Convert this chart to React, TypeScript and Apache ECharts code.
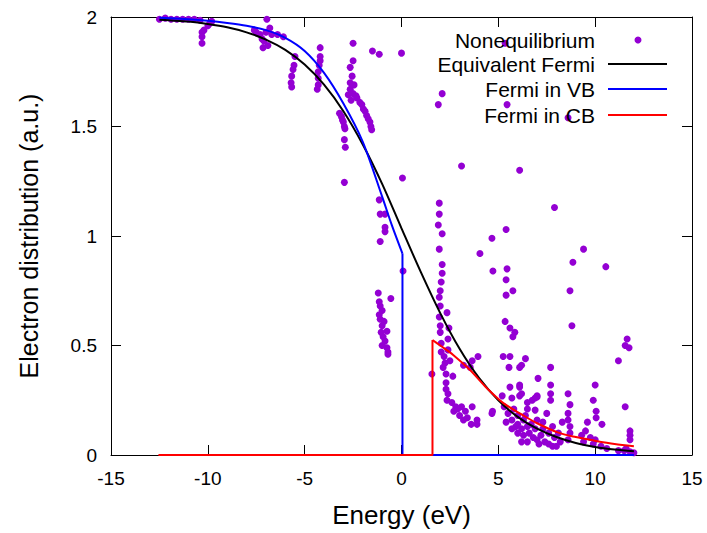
import React, { useEffect, useRef } from "react";
import * as echarts from "echarts";

const xTickValues = [-15, -10, -5, 0, 5, 10, 15];
const yTickValues = [0, 0.5, 1, 1.5, 2];

// Nonequilibrium distribution points [energy, value]
const noneqPoints: number[][] = [
  [-12.5, 1.99], [-12.2, 1.995], [-11.9, 1.99], [-11.6, 1.99], [-11.3, 1.99], [-11.0, 1.99], [-10.7, 1.99], [-10.4, 1.985],
  [-9.9, 1.97], [-10.0, 1.96], [-10.2, 1.94], [-10.3, 1.93], [-10.3, 1.91], [-10.3, 1.88], [-9.8, 1.98],
  [-6.95, 1.99], [-7.5, 1.93], [-7.3, 1.92], [-7.0, 1.93], [-6.7, 1.92], [-6.4, 1.92], [-6.1, 1.91], [-7.2, 1.90],
  [-7.1, 1.89], [-6.9, 1.87], [-7.15, 1.86], [-7.6, 1.94], [-6.8, 1.95],
  [-5.5, 1.82], [-5.55, 1.78], [-5.6, 1.76], [-5.67, 1.73], [-5.7, 1.70], [-5.67, 1.68],
  [-4.2, 1.86], [-4.2, 1.82], [-4.2, 1.80], [-4.25, 1.78], [-4.3, 1.75], [-4.3, 1.72], [-4.3, 1.69], [-4.35, 1.67],
  [-2.5, 1.88], [-1.5, 1.845], [-1.15, 1.83], [0.0, 1.835], [-2.5, 1.80], [-2.65, 1.77], [-2.55, 1.73], [-2.65, 1.70],
  [-2.45, 1.69], [-2.65, 1.67], [-2.75, 1.645], [-2.5, 1.65], [-2.35, 1.64], [-2.6, 1.62], [-2.3, 1.63],
  [-2.15, 1.61], [-2.05, 1.60], [-1.97, 1.58], [-1.88, 1.57], [-1.8, 1.55], [-1.72, 1.535], [-1.63, 1.52], [-1.58, 1.50], [-1.54, 1.485],
  [-3.2, 1.56], [-3.1, 1.545], [-3.05, 1.53], [-3.0, 1.52], [-2.95, 1.50], [-2.92, 1.49], [-2.95, 1.44], [-2.9, 1.405],
  [-2.95, 1.245], [0.05, 1.265],
  [-1.15, 1.165], [-1.1, 1.10], [-0.85, 1.10], [-0.85, 1.04], [-0.85, 1.02], [-1.1, 0.975],
  [0.08, 0.84],
  [-1.2, 0.74], [-0.55, 0.715], [-1.15, 0.70], [-1.1, 0.68], [-1.0, 0.66], [-1.15, 0.64], [-1.1, 0.62], [-0.9, 0.61],
  [-1.0, 0.59], [-0.75, 0.565], [-1.05, 0.56], [-0.95, 0.54], [-0.85, 0.52], [-1.0, 0.50], [-0.75, 0.49], [-0.7, 0.47], [-0.7, 0.46],
  [5.35, 1.88], [2.1, 1.65], [1.9, 1.60], [5.45, 1.60], [8.6, 1.54], [3.1, 1.32], [6.1, 1.30],
  [1.95, 1.15], [1.95, 1.10], [1.9, 1.05], [2.1, 1.01], [7.9, 1.13], [5.4, 1.03], [4.67, 0.99], [1.95, 0.94], [9.4, 0.94],
  [4.05, 0.92], [4.72, 0.84], [5.45, 0.85], [5.4, 0.80], [5.75, 0.75], [5.4, 0.73], [5.35, 0.61], [5.6, 0.58], [5.85, 0.56],
  [5.75, 0.54], [5.25, 0.45], [5.6, 0.45], [5.55, 0.40], [6.1, 0.40], [6.4, 0.44], [6.2, 0.41], [5.6, 0.31], [6.1, 0.31],
  [6.1, 0.27], [5.7, 0.26], [5.7, 0.12], [6.0, 0.14],
  [2.1, 0.87], [2.1, 0.83], [2.05, 0.79], [2.0, 0.75], [1.95, 0.72], [2.0, 0.68], [2.35, 0.65], [1.95, 0.63], [2.0, 0.59],
  [2.45, 0.58], [2.0, 0.56], [2.05, 0.51], [2.4, 0.53], [2.05, 0.47], [2.4, 0.48], [2.5, 0.43], [2.25, 0.42], [2.3, 0.37],
  [2.3, 0.33], [2.4, 0.28], [2.35, 0.25], [2.65, 0.36], [1.57, 0.37], [2.2, 0.45], [2.15, 0.40], [2.3, 0.30],
  [3.2, 0.41], [3.65, 0.43], [3.95, 0.45], [3.55, 0.40],
  [2.6, 0.24], [2.8, 0.22], [3.1, 0.22], [3.3, 0.20], [2.7, 0.20], [3.0, 0.18], [3.4, 0.17], [3.6, 0.14], [3.9, 0.14],
  [3.2, 0.16], [3.9, 0.16], [2.9, 0.21], [3.65, 0.22], [4.67, 0.19],
  [8.85, 0.88], [10.55, 0.86], [8.7, 0.75], [8.8, 0.59], [11.65, 0.53], [11.55, 0.50], [11.75, 0.49], [11.2, 0.43],
  [7.7, 0.40], [7.05, 0.35], [7.7, 0.32], [7.7, 0.28], [7.7, 0.25], [10.0, 0.32], [9.9, 0.25], [8.6, 0.28], [8.7, 0.23],
  [10.05, 0.20], [10.05, 0.17], [10.35, 0.14], [7.0, 0.27], [6.75, 0.25], [6.5, 0.21], [6.9, 0.26], [11.55, 0.22],
  [11.8, 0.11], [11.8, 0.09], [11.8, 0.07], [8.6, 0.19], [8.6, 0.16], [8.7, 0.13], [8.7, 0.10], [8.6, 0.07],
  [9.6, 0.15], [9.5, 0.11], [9.75, 0.08], [10.0, 0.07], [11.2, 0.02], [11.5, 0.02], [11.8, 0.015], [12.0, 0.01], [11.6, 0.03],
  [9.3, 0.09], [9.4, 0.06], [9.9, 0.05], [10.3, 0.04], [10.6, 0.03],
  [5.3, 0.22], [5.5, 0.19], [5.8, 0.21], [6.0, 0.18], [5.7, 0.16], [6.3, 0.16], [5.9, 0.13], [6.2, 0.12], [6.5, 0.13],
  [6.0, 0.10], [6.3, 0.09], [6.6, 0.10], [6.8, 0.08], [6.5, 0.06], [7.0, 0.07], [7.2, 0.09], [7.4, 0.06], [7.1, 0.05],
  [7.6, 0.05], [7.8, 0.04], [8.0, 0.04], [6.2, 0.06], [6.9, 0.12], [7.3, 0.12], [7.6, 0.10], [7.9, 0.08], [8.2, 0.06],
  [6.7, 0.14], [7.0, 0.16], [6.4, 0.18], [7.3, 0.15], [7.8, 0.13], [8.1, 0.10], [5.2, 0.27], [5.4, 0.15], [7.5, 0.19], [8.3, 0.15],
  [6.1, 0.32], [6.2, 0.28], [6.5, 0.24], [7.0, 0.265], [6.9, 0.205], [4.7, 0.20],
];

// Equivalent Fermi curve
const eqFermiE = [-12.5, -12, -11, -10, -9, -8, -7, -6, -5, -4, -3, -2, -1, 0, 1, 2, 3, 4, 5, 6, 7, 8, 9, 10, 11, 12];
const eqFermiY = [1.988, 1.985, 1.979, 1.968, 1.953, 1.930, 1.897, 1.850, 1.783, 1.691, 1.570, 1.418, 1.238, 1.035, 0.835, 0.648, 0.485, 0.352, 0.250, 0.174, 0.120, 0.082, 0.055, 0.037, 0.025, 0.017];

// Fermi in VB: curve part, then drop and zero line
const vbCurveE = [-12.5, -11, -10, -9, -8, -7, -6, -5, -4, -3, -2, -1, -0.5, 0.05];
const vbCurveY = [1.997, 1.99, 1.983, 1.973, 1.96, 1.94, 1.905, 1.845, 1.745, 1.605, 1.43, 1.18, 1.05, 0.92];
const vbStepE = [0.05, 0.05, 12.0];
const vbStepY = [0.92, 0, 0];

// Fermi in CB: zero line, jump, then curve
const cbStepE = [-12.55, 1.6, 1.6];
const cbStepY = [0, 0, 0.525];
const cbCurveE = [1.6, 2, 2.67, 3.54, 4.4, 5.26, 6.3, 7, 8.1, 9, 9.82, 11, 12];
const cbCurveY = [0.525, 0.5, 0.457, 0.388, 0.306, 0.237, 0.18, 0.145, 0.102, 0.082, 0.068, 0.05, 0.04];

const legendLabels = ["Nonequilibrium", "Equivalent Fermi", "Fermi in VB", "Fermi in CB"];

const PURPLE = "#9400d3";
const FONT = '"Liberation Sans", Arial, sans-serif';

const zip = (a: number[], b: number[]) => a.map((v, i) => [v, b[i]]);

export default function App() {
  const ref = useRef<HTMLDivElement>(null);
  useEffect(() => {
    if (!ref.current) return;
    const chart = echarts.init(ref.current, null, { renderer: "svg" });
    const axisLine = { show: true, onZero: false, lineStyle: { color: "#000", width: 1 } };
    const tick = { show: true, inside: true, length: 10, lineStyle: { color: "#000", width: 1 } };
    const lineBase = { type: "line", showSymbol: false, symbol: "none", animation: false };
    const legendRows = [40, 64, 89, 115];
    const legendColors = ["", "#000000", "#0000ff", "#ff0000"];
    const graphic: any[] = [];
    legendLabels.forEach((t, i) => {
      graphic.push({
        type: "text",
        x: 595,
        y: legendRows[i],
        style: { text: t, textAlign: "right", textVerticalAlign: "middle", font: `21px ${FONT}`, fill: "#000" },
        z: 100,
      });
      if (i === 0) {
        graphic.push({ type: "circle", shape: { cx: 638, cy: legendRows[i], r: 3.5 }, style: { fill: PURPLE }, z: 100 });
      } else {
        graphic.push({
          type: "line",
          shape: { x1: 608, y1: legendRows[i], x2: 667, y2: legendRows[i] },
          style: { stroke: legendColors[i], lineWidth: 2 },
          z: 100,
        });
      }
    });
    chart.setOption({
      animation: false,
      grid: { left: 111, top: 17, right: 15, bottom: 78, containLabel: false },
      xAxis: [
        {
          type: "value", position: "bottom", min: -15, max: 15, interval: 5,
          axisLine, axisTick: tick, splitLine: { show: false },
          axisLabel: { color: "#000", fontSize: 19, fontFamily: FONT, margin: 14 },
          name: "Energy (eV)", nameLocation: "middle", nameGap: 47,
          nameTextStyle: { color: "#000", fontSize: 26, fontFamily: FONT },
        },
        {
          type: "value", position: "top", min: -15, max: 15, interval: 5,
          axisLine, axisTick: tick, splitLine: { show: false }, axisLabel: { show: false },
        },
      ],
      yAxis: [
        {
          type: "value", position: "left", min: 0, max: 2, interval: 0.5,
          axisLine, axisTick: tick, splitLine: { show: false },
          axisLabel: { color: "#000", fontSize: 19, fontFamily: FONT, margin: 14 },
          name: "Electron distribution (a.u.)", nameLocation: "middle", nameGap: 70, nameRotate: 90,
          nameTextStyle: { color: "#000", fontSize: 25, fontFamily: FONT },
        },
        {
          type: "value", position: "right", min: 0, max: 2, interval: 0.5,
          axisLine, axisTick: tick, splitLine: { show: false }, axisLabel: { show: false },
        },
      ],
      series: [
        {
          name: legendLabels[0], type: "scatter", data: noneqPoints, symbolSize: 7,
          itemStyle: { color: PURPLE, opacity: 1 }, z: 2,
        },
        { ...lineBase, name: legendLabels[1], data: zip(eqFermiE, eqFermiY), smooth: 0.3, lineStyle: { color: "#000", width: 2 }, z: 3 },
        { ...lineBase, name: legendLabels[2], data: zip(vbCurveE, vbCurveY), smooth: 0.3, lineStyle: { color: "#0000ff", width: 2 }, z: 4 },
        { ...lineBase, name: legendLabels[2] + " step", data: zip(vbStepE, vbStepY), lineStyle: { color: "#0000ff", width: 2 }, z: 4 },
        { ...lineBase, name: legendLabels[3] + " step", data: zip(cbStepE, cbStepY), lineStyle: { color: "#ff0000", width: 2 }, z: 5 },
        { ...lineBase, name: legendLabels[3], data: zip(cbCurveE, cbCurveY), smooth: 0.3, lineStyle: { color: "#ff0000", width: 2 }, z: 5 },
      ],
      graphic,
    });
    return () => chart.dispose();
  }, []);
  return <div ref={ref} style={{ width: 707, height: 533, position: "absolute", left: 0, top: 0 }} />;
}
